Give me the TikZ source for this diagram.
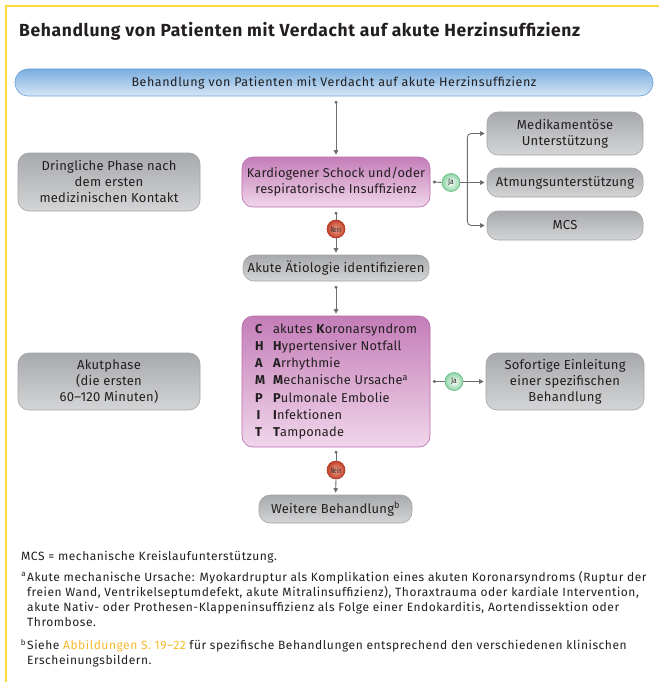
\documentclass[tikz,border=0pt]{standalone}
\usepackage{fontspec}
\setmainfont{Fira Sans}
\usetikzlibrary{arrows.meta}

\definecolor{txt}{HTML}{231F20}
\definecolor{graytop}{HTML}{A7A9AC}
\definecolor{graybot}{HTML}{D3D5D6}
\definecolor{grayedge}{HTML}{A3A5A8}
\definecolor{pinktop}{HTML}{C47DB8}
\definecolor{pinkbot}{HTML}{F0D6EA}
\definecolor{pinkedge}{HTML}{BC6AAE}
\definecolor{bluetop}{HTML}{7AAEDF}
\definecolor{bluebot}{HTML}{D5E6F6}
\definecolor{blueedge}{HTML}{6A9FD3}
\definecolor{linec}{HTML}{6D6E71}
\definecolor{framec}{HTML}{FDD83A}
\definecolor{refc}{HTML}{F8BA2C}
\definecolor{jaout}{HTML}{8ED3A5}
\definecolor{jaedge}{HTML}{5DBB7C}
\definecolor{neinin}{HTML}{F2A48C}
\definecolor{neinout}{HTML}{C2402A}
\definecolor{neinedge}{HTML}{A8321F}

\newcommand{\boxfont}{\fontsize{13}{16}\selectfont\addfontfeatures{LetterSpace=2}}
\newcommand{\bubfont}[1]{\fontsize{#1}{#1}\selectfont}

\tikzset{
  boxbase/.style={rounded corners=11pt, line width=0.6pt, align=center,
    inner sep=0pt, text=txt, font=\boxfont},
  graybox/.style={boxbase, draw=grayedge, top color=graytop, bottom color=graybot},
  pinkbox/.style={boxbase, draw=pinkedge, top color=pinktop, bottom color=pinkbot},
  bluebox/.style={boxbase, rounded corners=13pt, draw=blueedge, top color=bluetop,
    bottom color=bluebot,
    font=\fontsize{12.5}{14}\selectfont\addfontfeatures{LetterSpace=4.5}},
  jabub/.style={circle, minimum size=18pt, inner sep=0pt, draw=jaedge, line width=0.6pt,
    inner color=white, outer color=jaout, text=txt},
  neinbub/.style={circle, minimum size=18pt, inner sep=0pt, draw=neinedge, line width=0.6pt,
    inner color=neinin, outer color=neinout, text=txt},
  link/.style={draw=linec, line width=0.9pt},
  tip/.style={-{Triangle[length=4.5pt,width=4.5pt]}, shorten >=2pt},
  startdot/.style={fill=linec},
  foot/.style={anchor=north west, align=left, inner sep=0pt, text=txt,
    font=\fontsize{12}{15}\selectfont\addfontfeatures{LetterSpace=4.5}},
}

\begin{document}
\begin{tikzpicture}[x=1pt, y=-1pt]
\useasboundingbox (0,0) rectangle (659,682);
\fill[white] (0,0) rectangle (659,682);

% yellow frame (top and left edges)
\draw[framec, line width=1.8pt] (6,682) -- (6,6) -- (659,6);

% heading
\node[anchor=base west, inner sep=0pt, text=txt,
      font=\bfseries\fontsize{17.5}{20}\selectfont\addfontfeatures{LetterSpace=3.6}] (title) at (19,37)
  {Behandlung von Patienten mit Verdacht auf akute Herzinsuffizienz};

% boxes
\node[bluebox, minimum width=638pt, minimum height=27pt] (banner) at (334,82.5)
  {Behandlung von Patienten mit Verdacht auf akute Herzinsuffizienz};

\node[graybox, minimum width=182pt, minimum height=58pt] (urgent) at (109,182)
  {Dringliche Phase nach\\dem ersten\\medizinischen Kontakt};
\node[pinkbox, minimum width=188pt, minimum height=50pt,
      font=\fontsize{12.8}{16}\selectfont\addfontfeatures{LetterSpace=1.5}] (shock) at (336,182)
  {Kardiogener Schock und/oder\\respiratorische Insuffizienz};

\node[graybox, minimum width=156pt, minimum height=43pt] (med) at (565,133.5)
  {Medikamentöse\\Unterstützung};
\node[graybox, minimum width=156pt, minimum height=29pt] (atm) at (565,182.5)
  {Atmungsunterstützung};
\node[graybox, minimum width=156pt, minimum height=29pt] (mcs) at (565,225.5)
  {MCS};

\node[graybox, minimum width=186pt, minimum height=26pt] (aet) at (336,268)
  {Akute Ätiologie identifizieren};

\node[graybox, minimum width=182pt, minimum height=57pt] (acute) at (109,381.5)
  {Akutphase\\(die ersten\\60–120 Minuten)};
\node[pinkbox, align=left, minimum width=188pt, minimum height=131pt,
      font=\fontsize{12.8}{17.2}\selectfont\addfontfeatures{LetterSpace=2}] (champit) at (336,381.5)
  {\makebox[18pt][l]{\bfseries C}akutes \textbf{K}oronarsyndrom\\
   \makebox[18pt][l]{\bfseries H}\textbf{H}ypertensiver Notfall\\
   \makebox[18pt][l]{\bfseries A}\textbf{A}rrhythmie\\
   \makebox[18pt][l]{\bfseries M}\textbf{M}echanische Ursache\textsuperscript{a}\\
   \makebox[18pt][l]{\bfseries P}\textbf{P}ulmonale Embolie\\
   \makebox[18pt][l]{\bfseries\hspace{1.5pt}I}\textbf{I}nfektionen\\
   \makebox[18pt][l]{\bfseries T}\textbf{T}amponade};
\node[graybox, minimum width=158pt, minimum height=57pt] (specific) at (565,381.5)
  {Sofortige Einleitung\\einer spezifischen\\Behandlung};

\node[graybox, minimum width=153pt, minimum height=28pt] (further) at (335.5,509)
  {Weitere Behandlung\textsuperscript{b}};

% decision bubbles
\node[jabub] (ja1) at (451,182.5) {\scalebox{0.85}[1]{\bubfont{8}Ja}};
\node[neinbub] (nein1) at (336,229) {\scalebox{0.62}[1]{\bubfont{8}Nein}};
\node[jabub] (ja2) at (454,381.5) {\scalebox{0.85}[1]{\bubfont{8}Ja}};
\node[neinbub] (nein2) at (336,470) {\scalebox{0.62}[1]{\bubfont{8}Nein}};

% connector start points
\coordinate (s1) at ([yshift=-6pt]shock.north |- banner.south);
\coordinate (s2) at ([yshift=-6pt]shock.south);
\coordinate (s3) at ([xshift=4pt]shock.east);
\coordinate (br) at ([xshift=7pt]ja1.east);
\coordinate (s4) at ([yshift=-6pt]aet.south);
\coordinate (s5) at ([xshift=4pt]champit.east);
\coordinate (s6) at ([yshift=-5pt]champit.south);

% connectors
\draw[link, tip] (s1) -- (shock.north);
\draw[link] (s2) -- (nein1.north);
\draw[link, tip] (nein1.south) -- (aet.north);
\draw[link] (s3) -- (ja1.west);
\draw[link] (ja1.east) -- (br);
\draw[link, tip] (br) -- (atm.west);
\draw[link, tip, rounded corners=4pt] (br) |- (med.west);
\draw[link, tip, rounded corners=4pt] (br) |- (mcs.west);
\draw[link, tip] (s4) -- (champit.north);
\draw[link] (s5) -- (ja2.west);
\draw[link, tip] (ja2.east) -- (specific.west);
\draw[link] (s6) -- (nein2.north);
\draw[link, tip] (nein2.south) -- (further.north);

\foreach \p in {s1,s2,s3,s4,s5,s6}
  \fill[startdot] (\p) circle (1.7pt);

% notes
\node[foot] (note0) at (21,551)
  {MCS = mechanische Kreislaufunterstützung.};
\node[foot] (notea) at (27,571)
  {\llap{\textsuperscript{a}\hspace{1pt}}Akute mechanische Ursache: Myokardruptur als Komplikation eines akuten Koronarsyndroms (Ruptur der\\
   freien Wand, Ventrikelseptumdefekt, akute Mitralinsuffizienz), Thoraxtrauma oder kardiale Intervention,\\
   akute Nativ- oder Prothesen-Klappeninsuffizienz als Folge einer Endokarditis, Aortendissektion oder\\
   Thrombose.};
\node[foot] (noteb) at (27,639)
  {\llap{\textsuperscript{b}\hspace{1pt}}Siehe \textcolor{refc}{Abbildungen S. 19–22} für spezifische Behandlungen entsprechend den verschiedenen klinischen\\
   Erscheinungsbildern.};
\end{tikzpicture}
\end{document}
